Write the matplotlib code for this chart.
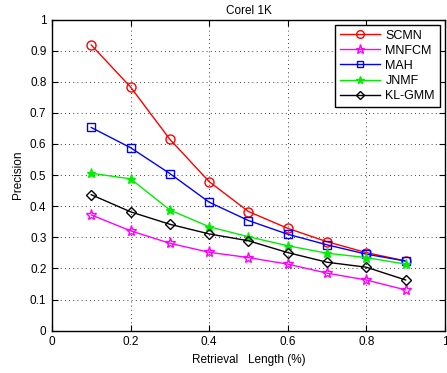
import numpy as np
import matplotlib.pyplot as plt

plt.rcParams['font.family'] = ['Liberation Sans', 'DejaVu Sans']

# Dane
x = [0.1, 0.2, 0.3, 0.4, 0.5, 0.6, 0.7, 0.8, 0.9]
scmn = [0.918, 0.783, 0.615, 0.479, 0.383, 0.329, 0.286, 0.251, 0.224]
mnfcm = [0.372, 0.321, 0.281, 0.252, 0.235, 0.214, 0.185, 0.163, 0.131]
mah = [0.653, 0.588, 0.505, 0.413, 0.354, 0.310, 0.276, 0.246, 0.224]
jnmf = [0.506, 0.488, 0.388, 0.334, 0.302, 0.273, 0.249, 0.235, 0.214]
klgmm = [0.437, 0.382, 0.342, 0.311, 0.289, 0.251, 0.220, 0.204, 0.163]

fig = plt.figure(figsize=(4.47, 3.73), dpi=100)
ax = fig.add_axes([0.1163, 0.1134, 0.879, 0.8343])

ax.plot(x, scmn, color='red', marker='o', ms=6.5, mfc='none', lw=1, label='SCMN')
ax.plot(x, mnfcm, color='magenta', marker='*', ms=8, mfc='none', lw=1, label='MNFCM')
ax.plot(x, mah, color='blue', marker='s', ms=5.5, mfc='none', lw=1, label='MAH')
ax.plot(x, jnmf, color='#00ee00', marker='*', ms=6.5, lw=1, label='JNMF')
ax.plot(x, klgmm, color='black', marker='D', ms=5, mfc='none', lw=1, label='KL-GMM')

ax.set_xlim(0, 1)
ax.set_ylim(0, 1)
ax.set_xticks(np.arange(0, 1.01, 0.2))
ax.set_xticklabels(['0', '0.2', '0.4', '0.6', '0.8', '1'])
ax.set_yticks(np.arange(0, 1.01, 0.1))
ax.set_yticklabels(['0', '0.1', '0.2', '0.3', '0.4', '0.5', '0.6', '0.7', '0.8', '0.9', '1'])
ax.tick_params(direction='in', labelsize=8.5, length=4, top=True, right=True, pad=4)
ax.grid(True, linestyle=(0, (1, 4)), color='black', lw=0.6)
for s in ax.spines.values():
    s.set_linewidth(1)

ax.set_xlabel('Retrieval   Length (%)', fontsize=8.5, labelpad=4)
ax.set_ylabel('Precision', fontsize=8.5)
ax.set_title('Corel 1K', fontsize=8.5, pad=4)

leg = ax.legend(loc='upper right', fontsize=9, fancybox=False, edgecolor='black',
                framealpha=1, handlelength=3.2, handletextpad=0.4, borderaxespad=0.4,
                labelspacing=0.25, borderpad=0.4, markerscale=0.85)
leg.get_frame().set_linewidth(1)

plt.savefig('out.png', dpi=100)
